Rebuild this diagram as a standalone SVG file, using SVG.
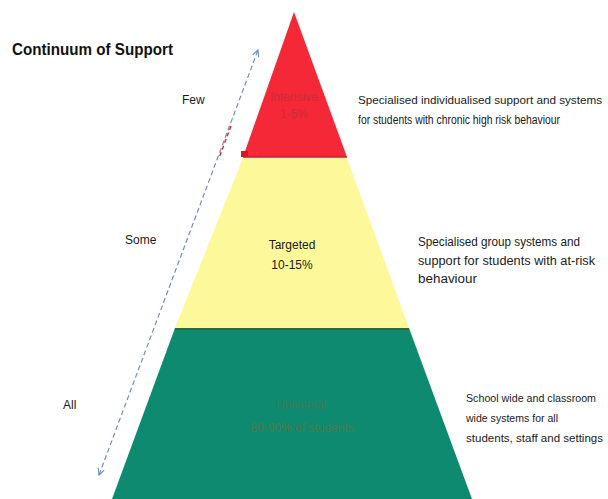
<svg xmlns="http://www.w3.org/2000/svg" width="608" height="499" viewBox="0 0 608 499">
<style>
  .t{font-family:"Liberation Sans",Arial,sans-serif;font-size:12px;fill:#1a1a1a}
  .s{font-size:11px}
  .title{font-family:"Liberation Sans",Arial,sans-serif;font-size:17px;font-weight:bold;fill:#111}
  .c{text-anchor:middle}
  .arrow{fill:none;stroke:#6f8fb8;stroke-width:1.2;stroke-dasharray:5 3}
</style>
<defs>
  <marker id="ah" viewBox="0 0 10 10" refX="9" refY="5" markerWidth="8" markerHeight="8" orient="auto-start-reverse" markerUnits="userSpaceOnUse">
    <path d="M1,1 L9,5 L1,9" fill="none" stroke="#6f8fb8" stroke-width="1.4"/>
  </marker>
</defs>
<rect width="608" height="499" fill="#fff"/>
<text class="title" x="12" y="55" textLength="161" lengthAdjust="spacingAndGlyphs">Continuum of Support</text>

<g id="connectors">
  <line class="arrow" x1="99" y1="475" x2="258" y2="50" marker-start="url(#ah)" marker-end="url(#ah)"/>
  <line x1="231" y1="126" x2="219" y2="158" stroke="#e8202a" stroke-width="1.4" stroke-dasharray="4 3"/>
</g>

<g id="tier-intensive">
  <polygon points="294,12 243,157 347,157" fill="#f42836"/>
  <line x1="243" y1="157" x2="347" y2="157" stroke="#c42030" stroke-width="1.5"/>
  <text class="t c" x="294" y="101" style="fill:#cc2c3a" font-size="10">Intensive</text>
  <text class="t c" x="294" y="118" style="fill:#cc2c3a" font-size="10">1-5%</text>
  <rect x="241" y="151" width="7" height="6" fill="#e0101c"/>
  <line x1="250" y1="153" x2="258" y2="153" stroke="#e84050" stroke-width="1.2" stroke-dasharray="2 1"/>
</g>

<g id="tier-targeted">
  <polygon points="243,158 347,158 409,328 175,328" fill="#fdf99a"/>
  <text class="t c" x="292" y="249">Targeted</text>
  <text class="t c" x="292" y="269">10-15%</text>
</g>

<g id="tier-universal">
  <polygon points="175,328 409,328 472,499 112,499" fill="#0e8a70"/>
  <line x1="175" y1="329" x2="409" y2="329" stroke="#2a6a40" stroke-width="2"/>
  <text class="t c" x="301" y="409" style="fill:#3f7a58" font-size="11">Universal</text>
  <text class="t c" x="302" y="432" style="fill:#4f7a48" font-size="11">80-90% of students</text>
</g>

<g id="labels-left">
  <text class="t" x="182" y="104">Few</text>
  <text class="t" x="125" y="244">Some</text>
  <text class="t" x="63" y="409">All</text>
</g>

<g id="desc-intensive">
  <text class="t s" x="358" y="104" textLength="244" lengthAdjust="spacingAndGlyphs">Specialised individualised support and systems</text>
  <text class="t" x="358" y="124" textLength="202" lengthAdjust="spacingAndGlyphs">for students with chronic high risk behaviour</text>
</g>

<g id="desc-targeted">
  <text class="t" x="418" y="246" textLength="162" lengthAdjust="spacingAndGlyphs">Specialised group systems and</text>
  <text class="t" x="418" y="265" textLength="177" lengthAdjust="spacingAndGlyphs">support for students with at-risk</text>
  <text class="t" x="418" y="283" textLength="59" lengthAdjust="spacingAndGlyphs">behaviour</text>
</g>

<g id="desc-universal">
  <text class="t s" x="466" y="402" textLength="130" lengthAdjust="spacingAndGlyphs" style="font-size:10.5px">School wide and classroom</text>
  <text class="t s" x="466" y="422" textLength="92" lengthAdjust="spacingAndGlyphs">wide systems for all</text>
  <text class="t s" x="466" y="442" textLength="137" lengthAdjust="spacingAndGlyphs" style="font-size:10.5px">students, staff and settings</text>
</g>
</svg>
